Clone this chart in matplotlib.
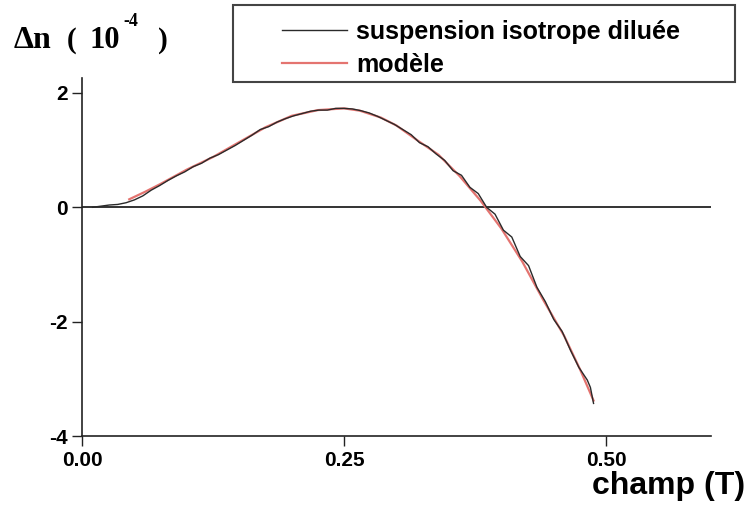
import matplotlib.pyplot as plt
from matplotlib.patches import Rectangle

plt.rcParams['axes.unicode_minus'] = False

# mesure : suspension isotrope diluée
champ_mes = [0.010, 0.018, 0.026, 0.034, 0.042, 0.050, 0.058, 0.066, 0.074, 0.082,
             0.090, 0.098, 0.106, 0.114, 0.122, 0.130, 0.138, 0.146, 0.154, 0.162,
             0.170, 0.178, 0.186, 0.194, 0.202, 0.210, 0.218, 0.226, 0.234, 0.242,
             0.250, 0.258, 0.266, 0.274, 0.282, 0.290, 0.298, 0.306, 0.314, 0.322,
             0.330, 0.338, 0.346, 0.354, 0.362, 0.370, 0.378, 0.386, 0.394, 0.402,
             0.410, 0.418, 0.426, 0.434, 0.442, 0.450, 0.458, 0.466, 0.474, 0.482,
             0.485, 0.488]
dn_mes = [0.00, 0.02, 0.04, 0.05, 0.08, 0.13, 0.20, 0.30, 0.38, 0.47,
          0.55, 0.62, 0.71, 0.77, 0.86, 0.92, 1.00, 1.08, 1.17, 1.26,
          1.36, 1.41, 1.49, 1.55, 1.60, 1.64, 1.68, 1.70, 1.70, 1.73,
          1.73, 1.72, 1.69, 1.65, 1.59, 1.52, 1.45, 1.36, 1.27, 1.13,
          1.06, 0.93, 0.82, 0.64, 0.56, 0.35, 0.24, 0.00, -0.12, -0.40,
          -0.52, -0.86, -1.02, -1.40, -1.65, -1.96, -2.17, -2.50, -2.80, -3.02,
          -3.15, -3.43]

# modèle
champ_mod = [0.045, 0.060, 0.075, 0.100, 0.125, 0.150, 0.175, 0.200, 0.225, 0.250,
             0.265, 0.285, 0.300, 0.320, 0.340, 0.360, 0.380, 0.400, 0.420, 0.440,
             0.460, 0.475, 0.488]
dn_mod = [0.14, 0.27, 0.41, 0.66, 0.88, 1.14, 1.40, 1.60, 1.70, 1.73,
          1.69, 1.57, 1.43, 1.17, 0.92, 0.55, 0.12, -0.37, -0.95, -1.62,
          -2.25, -2.83, -3.38]

xticks = [0.0, 0.25, 0.5]
xlabels = ['0.00', '0.25', '0.50']
yticks = [-4, -2, 0, 2]

sans = ['Liberation Sans', 'DejaVu Sans']
serif = ['Liberation Serif', 'DejaVu Serif']

fig = plt.figure(figsize=(7.46, 5.07), dpi=100)
ax = fig.add_axes([0.110, 0.140, 0.843, 0.706])

l_mod, = ax.plot(champ_mod, dn_mod, color='#e47470', lw=1.6, zorder=2)
l_mes, = ax.plot(champ_mes, dn_mes, color='#2a2a2a', lw=1.0, zorder=3)
ax.axhline(0, color='#111111', lw=1.2, zorder=1)

ax.set_xlim(0, 0.6)
ax.set_ylim(-4, 2.26)
ax.spines['top'].set_visible(False)
ax.spines['right'].set_visible(False)
for s in ('left', 'bottom'):
    ax.spines[s].set_linewidth(1.2)
    ax.spines[s].set_color('#222222')

ax.set_xticks(xticks)
ax.set_xticklabels(xlabels)
ax.set_yticks(yticks)
ax.tick_params(direction='out', length=7.5, width=1.0, color='#222222', pad=3)
for lab in ax.get_xticklabels() + ax.get_yticklabels():
    lab.set_family(sans)
    lab.set_fontweight('bold')
    lab.set_fontsize(15)

# titre de l'axe vertical
yl = 1 - 40 / 507
fig.text(14 / 746, yl, 'Δn', family=serif, fontweight='bold', fontsize=23,
         va='center', ha='left')
fig.text(67 / 746, yl, '(', family=serif, fontweight='bold', fontsize=21,
         va='center', ha='left')
fig.text(90 / 746, yl, '10', family=serif, fontweight='bold', fontsize=22,
         va='center', ha='left')
fig.text(123 / 746, 1 - 21 / 507, '-4', family=serif, fontweight='bold',
         fontsize=13, va='center', ha='left')
fig.text(158 / 746, yl, ')', family=serif, fontweight='bold', fontsize=21,
         va='center', ha='left')

# titre de l'axe horizontal
fig.text(745 / 746, 1 - 486 / 507, 'champ (T)', family=sans, fontweight='bold',
         fontsize=23, va='center', ha='right')

# légende encadrée
fig.patches.append(Rectangle((233 / 746, 1 - 82 / 507), 502 / 746, 77 / 507,
                             transform=fig.transFigure, fill=False,
                             edgecolor='#444444', lw=1.5))
leg = fig.legend([l_mes, l_mod], ['suspension isotrope diluée', 'modèle'],
                 loc='upper left', bbox_to_anchor=(282 / 746, 1 - 20 / 507),
                 frameon=False, borderpad=0, borderaxespad=0,
                 handlelength=2.6, handletextpad=0.35, labelspacing=0.35,
                 prop={'family': sans, 'weight': 'bold', 'size': 18})

fig.savefig('out.png', dpi=100)
